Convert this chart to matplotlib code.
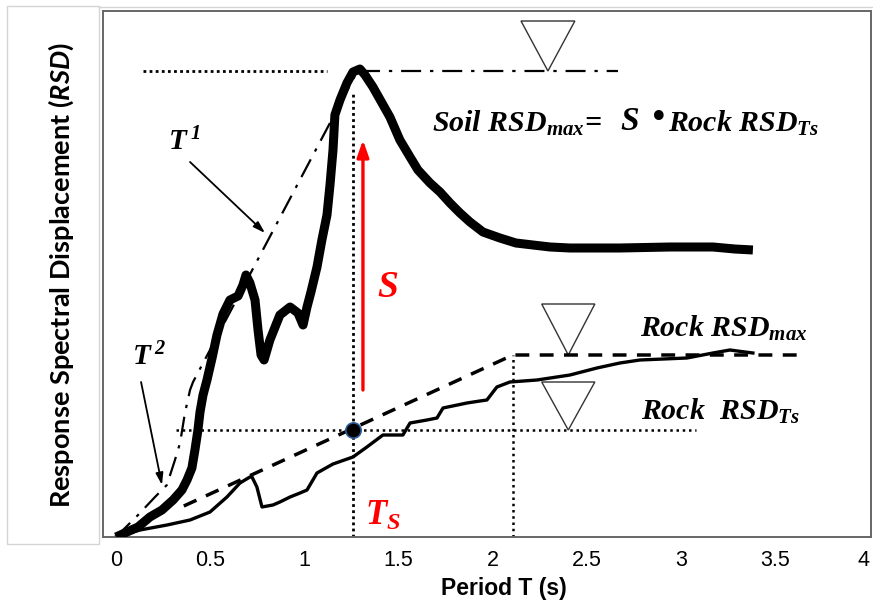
import matplotlib
matplotlib.use("Agg")
import matplotlib.pyplot as plt
from matplotlib.patches import Polygon, Rectangle

plt.rcParams['mathtext.fontset'] = 'custom'
plt.rcParams['mathtext.rm'] = 'Liberation Serif:italic:bold'
plt.rcParams['mathtext.it'] = 'Liberation Serif:italic:bold'
plt.rcParams['mathtext.bf'] = 'Liberation Serif:italic:bold'
plt.rcParams['mathtext.sf'] = 'Lato:italic:bold'

# soil response spectrum (thick line)
soil_T = [0, 0.117, 0.180, 0.244, 0.303, 0.350, 0.377, 0.403, 0.419, 0.435, 0.446, 0.462,
          0.483, 0.510, 0.536, 0.568, 0.605, 0.648, 0.674, 0.690, 0.711, 0.738, 0.754, 0.770,
          0.786, 0.817, 0.870, 0.924, 0.966, 0.993, 1.014, 1.035, 1.067, 1.093, 1.120, 1.136,
          1.152, 1.162, 1.189, 1.226, 1.258, 1.295, 1.322, 1.364, 1.412, 1.454, 1.507, 1.561,
          1.603, 1.667, 1.720, 1.773, 1.826, 1.879, 1.948, 2.038, 2.123, 2.304, 2.410, 2.675,
          2.941, 3.169, 3.285, 3.381]
soil_rsd = [0, 0.10, 0.20, 0.27, 0.37, 0.47, 0.57, 0.69, 0.87, 1.07, 1.25, 1.42,
            1.57, 1.79, 2.02, 2.23, 2.37, 2.41, 2.52, 2.62, 2.54, 2.37, 2.07, 1.82,
            1.77, 1.97, 2.22, 2.30, 2.24, 2.12, 2.30, 2.45, 2.70, 2.97, 3.22, 3.52,
            3.87, 4.22, 4.37, 4.54, 4.65, 4.68, 4.62, 4.50, 4.34, 4.20, 3.97, 3.80,
            3.67, 3.54, 3.45, 3.34, 3.24, 3.15, 3.05, 2.99, 2.94, 2.90, 2.89, 2.89,
            2.90, 2.90, 2.88, 2.87]

# rock response spectrum (thin line)
rock_T = [0, 0.127, 0.271, 0.393, 0.499, 0.589, 0.658, 0.711, 0.722, 0.748, 0.775, 0.833,
          0.870, 0.924, 0.977, 1.014, 1.067, 1.152, 1.258, 1.332, 1.417, 1.523, 1.561, 1.651,
          1.704, 1.736, 1.863, 1.932, 1.969, 2.022, 2.091, 2.235, 2.410, 2.553, 2.675, 2.781,
          3.031, 3.169, 3.259, 3.339, 3.381]
rock_rsd = [0, 0.07, 0.12, 0.17, 0.25, 0.40, 0.54, 0.60, 0.60, 0.50, 0.30, 0.32,
            0.35, 0.40, 0.44, 0.47, 0.64, 0.73, 0.80, 0.90, 1.02, 1.02, 1.14, 1.17,
            1.19, 1.29, 1.34, 1.36, 1.37, 1.50, 1.55, 1.57, 1.62, 1.69, 1.74, 1.77,
            1.79, 1.84, 1.87, 1.85, 1.84]

# T2 / T1 envelope (dash-dot)
env_T = [0, 0.117, 0.207, 0.270, 0.313, 0.340, 0.366, 0.393, 0.409, 1.279]
env_rsd = [0, 0.22, 0.40, 0.52, 0.77, 0.94, 1.24, 1.47, 1.55, 4.65]

# rock max envelope (dashed)
rmax_T = [0.36, 2.107, 3.668]
rmax_rsd = [0.31, 1.82, 1.82]

Ts = 1.258
T_corner = 2.107
soil_max = 4.66
rock_max = 1.82
rock_ts = 1.07

xticks = [0, 0.5, 1, 1.5, 2, 2.5, 3, 3.5, 4]
xticklabels = ['0', '0.5', '1', '1.5', '2', '2.5', '3', '3.5', '4']

fig = plt.figure(figsize=(8.73, 6.07), dpi=100)
ax = fig.add_axes([103/873, 1-537/607, (871-103)/873, (537-11)/607])
ax.set_xlim(-0.069, 4.008)
ax.set_ylim(0, 5.26)

# gray box around y label, and thin top line
fig.patches.append(Rectangle((7/873, 1-544/607), (99-7)/873, (544-6)/607,
                             transform=fig.transFigure, fill=False,
                             edgecolor='#d4d4d4', lw=1))
fig.lines.append(plt.Line2D([99/873, 1], [1-7/607, 1-7/607], transform=fig.transFigure,
                            color='#d4d4d4', lw=1))

# guide lines
ax.plot([0.143, 1.12], [soil_max, soil_max], color='black', ls=(0, (1, 1.2)), lw=2)
ax.plot([1.295, 2.665], [soil_max, soil_max], color='black', lw=1.6,
        dashes=(9, 4, 1.5, 4))
ax.plot([Ts, Ts], [0, 4.44], color='black', ls=(0, (1, 1.2)), lw=2)
ax.plot([0.318, 3.079], [rock_ts, rock_ts], color='black', ls=(0, (1, 1.5)), lw=1.8)
ax.plot([T_corner, T_corner], [0, rock_max], color='black', ls=(0, (1, 1.5)), lw=1.8)

ax.plot(rmax_T, rmax_rsd, color='black', lw=2.5, dashes=(4, 3))
ax.plot(env_T, env_rsd, color='black', lw=1.6, dashes=(9, 4, 1.5, 4))

ax.plot(rock_T, rock_rsd, color='black', lw=2.4, solid_joinstyle='round')
ax.plot(soil_T, soil_rsd, color='black', lw=6.5, solid_joinstyle='round',
        solid_capstyle='butt', zorder=5)

ax.plot([Ts], [rock_ts], 'o', ms=11, mfc='black', mec='#2a5c9a', mew=1.2, zorder=6)

# water-level style triangles
for top, xl, xr, apex in [(5.16, 2.150, 2.436, soil_max),
                          (2.33, 2.260, 2.542, rock_max),
                          (1.55, 2.260, 2.542, rock_ts)]:
    ax.add_patch(Polygon([[xl, top], [xr, top], [(xl+xr)/2, apex]], closed=True,
                         fill=False, edgecolor='#333333', lw=1))

# red arrow for S
ax.annotate('', xy=(1.311, 3.97), xytext=(1.311, 1.47),
            arrowprops=dict(arrowstyle='-|>,head_length=1.0,head_width=0.35',
                            color='red', lw=2.4, shrinkA=0, shrinkB=0))
ax.text(1.384, 2.40, r'$S$', color='red', fontsize=27)
ax.text(1.322, 0.12, r'$T_S$', color='red', fontsize=25)

# T1 and T2 arrows
arr = dict(arrowstyle='-|>,head_length=0.7,head_width=0.22', color='black', lw=1.3,
           shrinkA=0, shrinkB=0)
ax.annotate('', xy=(0.791, 3.04), xytext=(0.393, 3.75), arrowprops=arr)
ax.annotate('', xy=(0.244, 0.52), xytext=(0.133, 1.55), arrowprops=arr)
ax.text(0.276, 3.87, r'$T^{\,1}$', fontsize=21)
ax.text(0.083, 1.72, r'$T^{\,2}$', fontsize=21)

ax.text(1.677, 4.05, r'$Soil\ RSD_{max}\!=$', fontsize=21.5)
ax.text(2.675, 4.07, r'$S$', fontsize=24)
ax.text(2.83, 4.09, u'\u2022', fontsize=24, family='DejaVu Sans', va='baseline')
ax.text(2.93, 4.05, r'$Rock\ RSD_{Ts}$', fontsize=21.5)
ax.text(2.781, 2.00, r'$Rock\ RSD_{max}$', fontsize=21.5)
ax.text(2.786, 1.17, r'$Rock\ \ RSD_{Ts}$', fontsize=21.5)

ax.set_xticks(xticks)
ax.set_xticklabels(xticklabels, family='Liberation Sans', fontsize=15.5)
ax.set_yticks([])
ax.tick_params(axis='x', length=0, pad=9)
# last label sits at the frame edge, nudge it inside
lab4 = ax.get_xticklabels()[-1]
lab4.set_horizontalalignment('right')
for s in ax.spines.values():
    s.set_color('#666666')
    s.set_linewidth(1.4)

fig.text(504/873, 1-589/607, 'Period T (s)', family='Liberation Sans', weight='bold',
         fontsize=16.5, ha='center', va='center')
fig.text(61/873, 1-275/607, r'Response Spectral Displacement ($\mathsf{RSD}$)',
         family='Lato', weight='bold', fontsize=19.5, rotation=90, ha='center', va='center')

fig.savefig('out.png', dpi=100)
